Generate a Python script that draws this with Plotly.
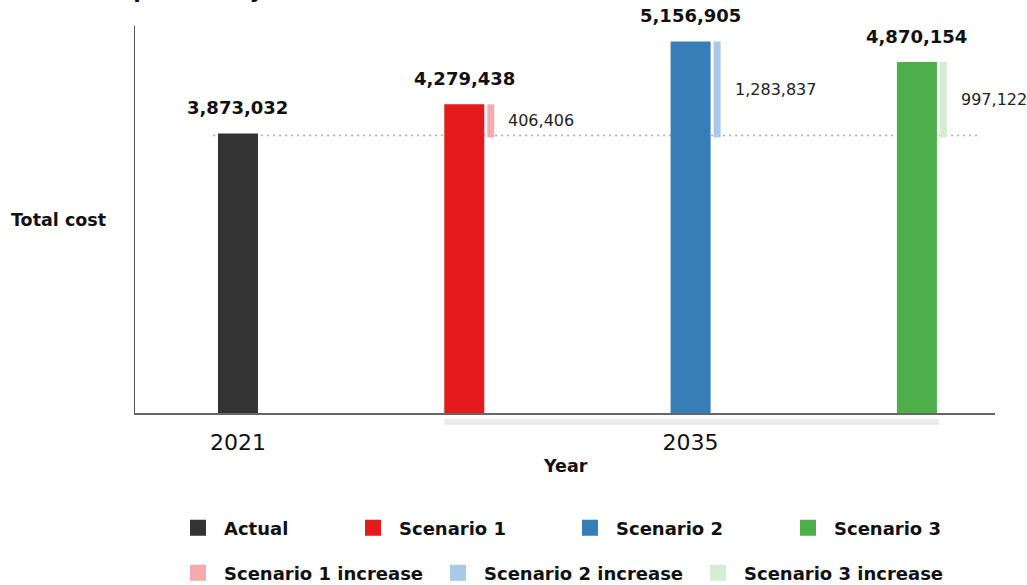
import plotly.graph_objects as go

# ---- data ----
series = ["Actual", "Scenario 1", "Scenario 2", "Scenario 3"]
series_years = ["2021", "2035", "2035", "2035"]
totals = [3873032, 4279438, 5156905, 4870154]
increase_names = ["Scenario 1 increase", "Scenario 2 increase", "Scenario 3 increase"]
increases = [406406, 1283837, 997122]
tick_years = ["2021", "2035"]

colors = ["#333333", "#e41a1c", "#377eb8", "#4daf4a"]
increase_colors = ["#f5aaae", "#a9c9e7", "#d5eed3"]

FONT = "DejaVu Sans"

# ---- geometry (figure px) ----
W, H = 1027, 585
ML, MR, MT, MB = 135, 32, 26, 172
PW, PH = W - ML - MR, H - MT - MB
XR = [-0.455, 3.345]
PXU = PW / (XR[1] - XR[0])          # px per x unit
LW = 4                               # bar outline width (enlarges legend swatch)
BAR_W = (40 - LW) / PXU
INC_W = (7 - LW) / PXU
INC_OFF = 26.5 / PXU

def px_x(p):  # figure px -> paper x
    return (p - ML) / PW

def px_y(p):  # figure px -> paper y
    return (H - MB - p) / PH

baseline = totals[0]
xpos = list(range(len(series)))

fig = go.Figure()

legend_names = ["legend", "legend2", "legend3", "legend4"]
for i, (name, tot, col) in enumerate(zip(series, totals, colors)):
    fig.add_trace(go.Bar(
        x=[xpos[i]], y=[tot], width=[BAR_W], name=name,
        marker=dict(color=col, line=dict(color=col, width=LW)),
        legend=legend_names[i], showlegend=True, hoverinfo="skip",
    ))

inc_legends = ["legend5", "legend6", "legend7"]
for j, (name, inc, col) in enumerate(zip(increase_names, increases, increase_colors)):
    i = j + 1
    fig.add_trace(go.Bar(
        x=[xpos[i] + INC_OFF], y=[inc], base=[baseline], width=[INC_W], name=name,
        marker=dict(color=col, line=dict(color=col, width=LW)),
        legend=inc_legends[j], showlegend=True, hoverinfo="skip",
    ))

annotations = []
# total value labels
for i, tot in enumerate(totals):
    annotations.append(dict(
        x=xpos[i], y=tot, xref="x", yref="y", text=f"{tot:,}",
        showarrow=False, yanchor="bottom", yshift=15,
        font=dict(family=FONT, size=18, color="#111111", weight="bold"),
    ))
# increase labels
for j, inc in enumerate(increases):
    i = j + 1
    annotations.append(dict(
        x=xpos[i] + INC_OFF + INC_W / 2, y=baseline + inc / 2, xref="x", yref="y",
        text=f"{inc:,}", showarrow=False, xanchor="left", yanchor="middle", xshift=14,
        font=dict(family=FONT, size=16, color="#222222"),
    ))
# y axis title (horizontal)
annotations.append(dict(
    x=px_x(108), y=0.5, xref="paper", yref="paper", text="<b>Total cost</b>",
    showarrow=False, xanchor="right", yanchor="middle",
    font=dict(family=FONT, size=17.5, color="#111111"),
))
# x axis title
annotations.append(dict(
    x=0.5, y=px_y(466), xref="paper", yref="paper", text="<b>Year</b>",
    showarrow=False, xanchor="center", yanchor="middle",
    font=dict(family=FONT, size=17.5, color="#111111"),
))
# chart title (sits almost entirely above the visible page, as in the reference)
annotations.append(dict(
    x=px_x(-47), y=px_y(5), xref="paper", yref="paper",
    text="<b>Total cost comparison by scenario</b>",
    showarrow=False, xanchor="left", yanchor="bottom",
    font=dict(family=FONT, size=22, color="#111111"),
))

shapes = [
    # baseline dotted reference line
    dict(type="line", xref="x", yref="y", x0=-0.11, x1=3.266, y0=baseline, y1=baseline,
         line=dict(color="#aaaaaa", width=1.5, dash="2px,4px"), layer="below"),
    # 2035 group band under the axis
    dict(type="rect", xref="x", yref="paper",
         x0=xpos[1] - BAR_W / 2 - LW / 2 / PXU, x1=xpos[3] + BAR_W / 2 + LW / 2 / PXU + 2 / PXU,
         y0=px_y(425), y1=px_y(419), fillcolor="#ececec", line=dict(width=0), layer="below"),
]

tick_pos = [xpos[0], sum(xpos[1:]) / 3]

legend_font = dict(family=FONT, size=18, color="#111111", weight="bold")
ITEMW = 42
# symbol left edges (px) and row centers (px)
leg_specs = [
    ("legend", 190, 528), ("legend2", 365, 528), ("legend3", 582, 528), ("legend4", 800, 528),
    ("legend5", 190, 573), ("legend6", 450, 573), ("legend7", 710, 573),
]
legend_layout = {}
for key, sx, cy in leg_specs:
    legend_layout[key] = dict(
        x=px_x(sx + 8 - (5 + ITEMW / 2)), y=px_y(cy), xanchor="left", yanchor="middle",
        orientation="h", font=legend_font, bgcolor="rgba(0,0,0,0)", itemwidth=ITEMW,
        borderwidth=0, itemclick=False, itemdoubleclick=False,
    )

fig.update_layout(
    width=W, height=H,
    margin=dict(l=ML, r=MR, t=MT, b=MB, pad=0, autoexpand=False),
    paper_bgcolor="white", plot_bgcolor="white",
    barmode="overlay",
    font=dict(family=FONT, color="#111111"),
    xaxis=dict(range=XR, showgrid=False, zeroline=False, showline=True,
               linecolor="#666666", linewidth=1.5, ticks="",
               tickvals=tick_pos, ticktext=tick_years, ticklabelstandoff=9,
               tickfont=dict(family=FONT, size=22, color="#111111")),
    yaxis=dict(range=[0, 5.4e6], showgrid=False, zeroline=False, showline=True,
               linecolor="#555555", linewidth=1, showticklabels=False, ticks=""),
    annotations=annotations,
    shapes=shapes,
    **legend_layout,
)

fig.write_html("out.html")
